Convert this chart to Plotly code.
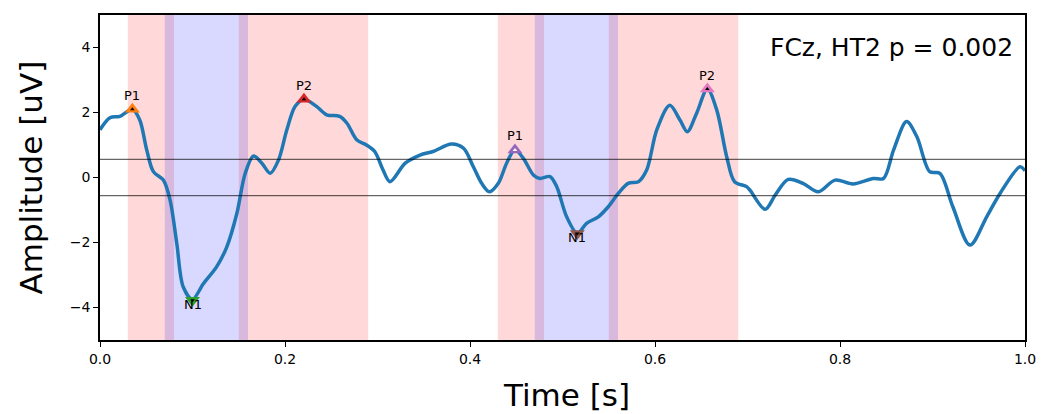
import plotly.graph_objects as go

# ---- data ----
time_s = [0.0, 0.0108, 0.0216, 0.035, 0.043, 0.0505, 0.0577, 0.0685, 0.0757, 0.083, 0.090,
          0.100, 0.1117, 0.126, 0.137, 0.148, 0.157, 0.166, 0.175, 0.184, 0.193, 0.202, 0.211,
          0.2205, 0.234, 0.245, 0.259, 0.267, 0.2775, 0.288, 0.297, 0.306, 0.3135, 0.33, 0.346,
          0.360, 0.380, 0.393, 0.4036, 0.4126, 0.421, 0.4306, 0.4396, 0.4486, 0.4577, 0.4685,
          0.4757, 0.4865, 0.4937, 0.5045, 0.516, 0.526, 0.5387, 0.5495, 0.5603, 0.571, 0.582,
          0.591, 0.602, 0.616, 0.627, 0.635, 0.645, 0.6566, 0.6667, 0.6775, 0.686, 0.699,
          0.7027, 0.719, 0.730, 0.744, 0.760, 0.7766, 0.7946, 0.814, 0.836, 0.847, 0.858,
          0.872, 0.883, 0.897, 0.908, 0.922, 0.9405, 0.9586, 0.973, 0.9946, 1.0]
amplitude = [1.47, 1.84, 1.88, 2.10, 1.77, 0.85, 0.18, -0.08, -0.69, -2.03, -3.37,
             -3.75, -3.27, -2.75, -2.14, -1.10, 0.13, 0.66, 0.44, 0.13, 0.54, 1.47, 2.19,
             2.41, 2.19, 1.93, 1.88, 1.67, 1.16, 1.00, 0.80, 0.23, -0.13, 0.44, 0.69,
             0.80, 1.03, 0.90, 0.33, -0.18, -0.44, -0.18, 0.44, 0.85, 0.59, 0.08,
             -0.03, 0.03, -0.28, -1.21, -1.72, -1.41, -1.21, -0.90, -0.49, -0.18, -0.13,
             0.23, 1.47, 2.22, 1.77, 1.41, 1.98, 2.72, 2.08, 0.64, -0.13, -0.28,
             -0.39, -0.98, -0.54, -0.06, -0.18, -0.44, -0.08, -0.20, -0.03, -0.03, 0.85,
             1.72, 1.26, 0.18, 0.13, -0.90, -2.08, -1.21, -0.49, 0.33, 0.21]

peak_labels = ["P1", "N1", "P2", "P1", "N1", "P2"]
peak_times = [0.035, 0.100, 0.2205, 0.4486, 0.516, 0.6566]
peak_values = [2.10, -3.78, 2.41, 0.85, -1.72, 2.72]
peak_colors = ["#ff7f0e", "#2ca02c", "#d62728", "#9467bd", "#8c564b", "#e377c2"]
inner_colors = ["black", "black", "black", "white", "black", "black"]

window_starts = [0.03, 0.07, 0.15, 0.43, 0.47, 0.55]
window_ends = [0.08, 0.16, 0.29, 0.48, 0.56, 0.69]
window_kinds = ["P", "N", "P", "P", "N", "P"]

threshold = 0.56
x_ticks = [0.0, 0.2, 0.4, 0.6, 0.8, 1.0]
y_ticks = [-4, -2, 0, 2, 4]
title_text = "FCz, HT2 p = 0.002"
x_title = "Time [s]"
y_title = "Amplitude [uV]"

# ---- figure ----
fig = go.Figure()

shapes = []
for kind in ["P", "N"]:
    for s, e, k in zip(window_starts, window_ends, window_kinds):
        if k != kind:
            continue
        col = "rgba(255,0,0,0.15)" if k == "P" else "rgba(0,0,255,0.15)"
        shapes.append(dict(type="rect", xref="x", yref="paper", x0=s, x1=e, y0=0, y1=1,
                           fillcolor=col, line=dict(width=0), layer="below"))
for yv in [threshold, -threshold]:
    shapes.append(dict(type="line", xref="paper", yref="y", x0=0, x1=1, y0=yv, y1=yv,
                       line=dict(color="rgba(0,0,0,0.75)", width=1), layer="above"))

fig.add_trace(go.Scatter(x=time_s, y=amplitude, mode="lines",
                         line=dict(color="#1f77b4", width=3.5, shape="spline", smoothing=0.9),
                         hoverinfo="skip", showlegend=False))

for lab, t, v, c, ic in zip(peak_labels, peak_times, peak_values, peak_colors, inner_colors):
    sym = "triangle-up" if lab.startswith("P") else "triangle-down"
    fig.add_trace(go.Scatter(x=[t], y=[v], mode="markers",
                             marker=dict(symbol=sym, size=13, color=c, line=dict(width=0)),
                             showlegend=False))
    fig.add_trace(go.Scatter(x=[t], y=[v], mode="markers",
                             marker=dict(symbol=sym, size=4, color=ic, line=dict(width=0)),
                             showlegend=False))
    fig.add_annotation(x=t, y=v, text=lab, showarrow=False,
                       yshift=14 if lab.startswith("P") else -4,
                       font=dict(family="DejaVu Sans", size=13, color="black"))

fig.add_annotation(xref="paper", yref="y", x=1, y=4.0, xanchor="right", yanchor="middle",
                   xshift=-10, text=title_text, showarrow=False,
                   font=dict(family="DejaVu Sans", size=25, color="black"))

# axis titles as annotations (fixed positions, no automargin)
fig.add_annotation(xref="paper", yref="paper", x=0.5, y=0, xanchor="center", yanchor="middle",
                   yshift=-55, xshift=4, text=x_title, showarrow=False,
                   font=dict(family="DejaVu Sans", size=31, color="black"))
fig.add_annotation(xref="paper", yref="paper", x=0, y=0.5, xanchor="center", yanchor="middle",
                   xshift=-70, text=y_title, textangle=-90, showarrow=False,
                   font=dict(family="DejaVu Sans", size=31, color="black"))

axis_common = dict(showline=True, linecolor="black", linewidth=1.5, mirror=True,
                   ticks="outside", ticklen=5, tickwidth=1.2, tickcolor="black",
                   showgrid=False, zeroline=False, automargin=False,
                   tickfont=dict(family="DejaVu Sans", size=14, color="black"))

fig.update_layout(
    width=1041, height=414,
    margin=dict(l=100, r=16, t=15, b=74),
    plot_bgcolor="white", paper_bgcolor="white",
    shapes=shapes,
    xaxis=dict(range=[0, 1], tickvals=x_ticks, tickformat=".1f", **axis_common),
    yaxis=dict(range=[-5, 5], tickvals=y_ticks, **axis_common),
)

fig.write_html("out.html")
